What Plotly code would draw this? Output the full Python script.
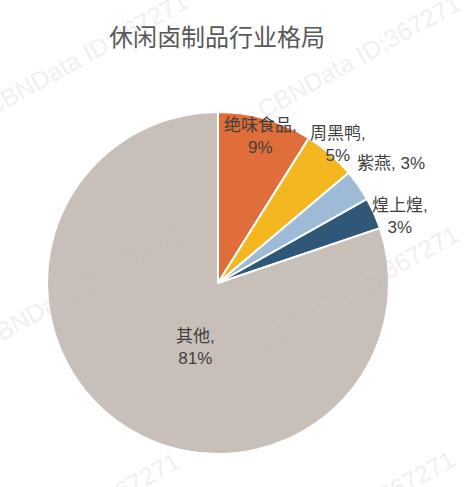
import math
import plotly.graph_objects as go

# Market share of the snack braised-food industry
companies = ["绝味食品", "周黑鸭", "紫燕", "煌上煌", "其他"]
shares = [9, 5, 3, 3, 81]
label_texts = ["绝味食品,<br>9%", "周黑鸭,<br>5%", "紫燕, 3%", "煌上煌,<br>3%", "其他,<br>81%"]
colors = ["#DF6E3A", "#F4B71F", "#9DBAD6", "#2F5878", "#C9BFB9"]

W, H = 468, 487
CX, CY, R = 218, 283, 171  # pie centre and radius in pixels

# label placement: radial distance (fraction of radius) and angular nudge (deg)
label_radius = [0.89, 1.07, 1.23, 1.13, 0.40]
label_nudge = [0, 0, 0, 4, -16]

fig = go.Figure()
fig.add_trace(go.Pie(
    labels=companies,
    values=shares,
    sort=False,
    direction="clockwise",
    rotation=0,
    marker=dict(colors=colors, line=dict(color="white", width=2)),
    textinfo="none",
    hoverinfo="label+percent",
    showlegend=False,
    domain=dict(x=[(CX - R) / W, (CX + R) / W],
                y=[(H - CY - R) / H, (H - CY + R) / H]),
))

annotations = []

# tiled watermark (drawn first so it sits beneath the labels)
wm_centres = [(86, 54), (359, 56), (81, 287), (357, 287), (78, 514), (353, 512)]
for wx, wy in wm_centres:
    annotations.append(dict(
        x=wx / W, y=1 - wy / H, xref="paper", yref="paper",
        text="CBNData ID:367271", showarrow=False, xanchor="center", yanchor="middle",
        textangle=-29,
        font=dict(family="Liberation Sans", size=25, color="rgba(200,200,200,0.3)"),
    ))

# slice labels placed around each slice's mid-angle
total = sum(shares)
cum = 0
for txt, v, rf, nudge in zip(label_texts, shares, label_radius, label_nudge):
    mid = (cum + v / 2) / total * 360 + nudge
    cum += v
    rad = math.radians(mid)
    px = CX + rf * R * math.sin(rad)
    py = CY - rf * R * math.cos(rad)
    annotations.append(dict(
        x=px / W, y=1 - py / H, xref="paper", yref="paper",
        text=txt, showarrow=False, xanchor="center", yanchor="middle",
        align="center",
        font=dict(family="Liberation Sans, Noto Sans CJK SC", size=17, color="#3F3F3F"),
    ))

# title
annotations.append(dict(
    x=217 / W, y=1 - 35 / H, xref="paper", yref="paper",
    text="休闲卤制品行业格局", showarrow=False, xanchor="center", yanchor="middle",
    font=dict(family="Noto Sans CJK SC", size=24, color="#595959"),
))

fig.update_layout(
    width=W, height=H,
    margin=dict(l=0, r=0, t=0, b=0),
    paper_bgcolor="white", plot_bgcolor="white",
    annotations=annotations,
)

fig.write_html("out.html")
